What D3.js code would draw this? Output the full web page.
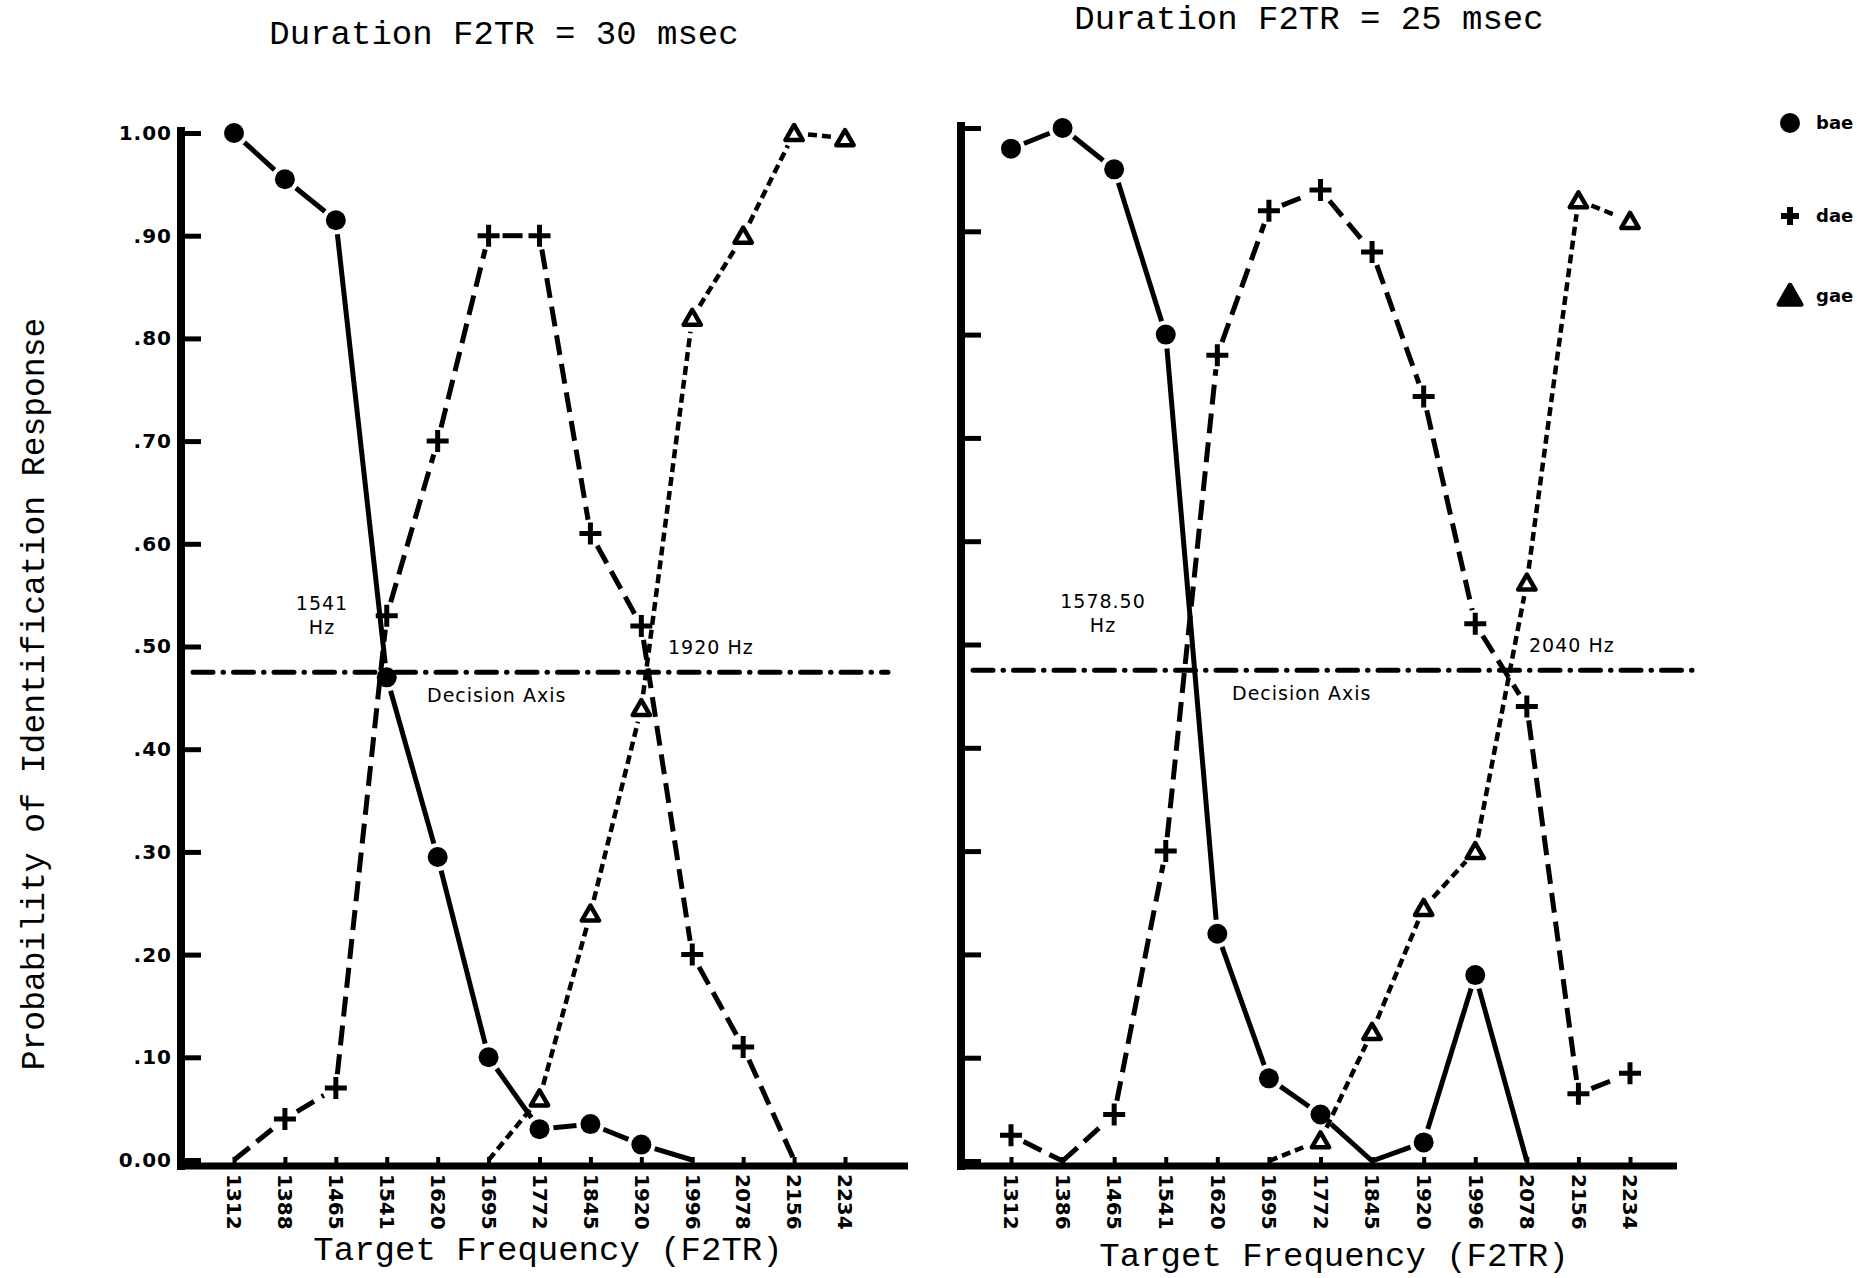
<!DOCTYPE html>
<html lang="en">
<head>
<meta charset="UTF-8">
<title>Identification response vs target frequency</title>
<script src="https://cdn.jsdelivr.net/npm/d3@7"></script>
<style>
  body { margin: 0; background: #fff; }
  .mono { font-family: "Liberation Mono", "DejaVu Sans Mono", monospace; }
  .tick text { font-family: "DejaVu Sans", sans-serif; font-weight: bold; font-size: 20px; }
  .note { font-family: "DejaVu Sans", sans-serif; font-size: 19px; letter-spacing: 1px; }
  .legend { font-family: "DejaVu Sans", sans-serif; font-weight: bold; font-size: 18px; }
</style>
</head>
<body>
<div id="chart"></div>
<script>
// categories (target frequency, Hz)
const freqsLeft  = ["1312","1388","1465","1541","1620","1695","1772","1845","1920","1996","2078","2156","2234"];
const freqsRight = ["1312","1386","1465","1541","1620","1695","1772","1845","1920","1996","2078","2156","2234"];

// probability of identification, 30 msec panel
const baeLeft = [1.00, 0.955, 0.915, 0.47, 0.295, 0.10, 0.03, 0.035, 0.015, 0, null, null, null];
const daeLeft = [0, 0.04, 0.07, 0.53, 0.70, 0.90, 0.90, 0.61, 0.52, 0.20, 0.11, 0, null];
const gaeLeft = [null, null, null, null, null, 0, 0.06, 0.24, 0.44, 0.82, 0.90, 1.00, 0.995];

// probability of identification, 25 msec panel
const baeRight = [0.98, 1.00, 0.96, 0.80, 0.22, 0.08, 0.045, 0, 0.018, 0.18, 0, null, null];
const daeRight = [0.025, 0, 0.045, 0.30, 0.78, 0.92, 0.94, 0.88, 0.74, 0.52, 0.44, 0.065, 0.085];
const gaeRight = [null, null, null, null, null, 0, 0.02, 0.125, 0.245, 0.30, 0.56, 0.93, 0.91];

const yTickValues = [0, 0.1, 0.2, 0.3, 0.4, 0.5, 0.6, 0.7, 0.8, 0.9, 1.0];
const yTickLabels = ["0.00", ".10", ".20", ".30", ".40", ".50", ".60", ".70", ".80", ".90", "1.00"];
const decisionValue = 0.475;

const svg = d3.select("#chart").append("svg")
  .attr("width", 1861).attr("height", 1278);

// line styles for each response
const styles = {
  bae: { width: 5, dash: null },
  dae: { width: 5, dash: "20,9" },
  gae: { width: 4.5, dash: "9,5" }
};

function drawMarker(g, kind, cx, cy, legend) {
  if (kind === "bae") {
    g.append("circle").attr("cx", cx).attr("cy", cy).attr("r", 10).attr("fill", "#000");
  } else if (kind === "dae") {
    const a = legend ? 9 : 11;
    g.append("path")
      .attr("d", `M${cx - a},${cy}H${cx + a}M${cx},${cy - a}V${cy + a}`)
      .attr("stroke", "#000").attr("stroke-width", legend ? 6 : 5).attr("fill", "none");
  } else {
    g.append("path")
      .attr("d", d3.symbol(d3.symbolTriangle, legend ? 220 : 130)())
      .attr("transform", `translate(${cx},${cy + 2})`)
      .attr("fill", legend ? "#000" : "#fff")
      .attr("stroke", "#000").attr("stroke-width", 4.5).attr("stroke-linejoin", "round");
  }
}

function drawSeries(g, x, y, cats, vals, kind) {
  const pts = cats.map((c, i) => ({ x: x(c), v: vals[i], y: vals[i] == null ? null : y(vals[i]) }));
  const st = styles[kind];
  const gap = 14;
  for (let i = 0; i < pts.length - 1; i++) {
    const p0 = pts[i], p1 = pts[i + 1];
    if (p0.v == null || p1.v == null) continue;
    const dx = p1.x - p0.x, dy = p1.y - p0.y;
    const len = Math.hypot(dx, dy);
    const g0 = p0.v > 0.005 ? gap : 0;
    const g1 = p1.v > 0.005 ? gap : 0;
    if (len <= g0 + g1) continue;
    const ux = dx / len, uy = dy / len;
    g.append("line")
      .attr("x1", p0.x + ux * g0).attr("y1", p0.y + uy * g0)
      .attr("x2", p1.x - ux * g1).attr("y2", p1.y - uy * g1)
      .attr("stroke", "#000").attr("stroke-width", st.width)
      .attr("stroke-dasharray", st.dash);
  }
  pts.forEach(p => {
    if (p.v != null && p.v > 0.005) drawMarker(g, kind, p.x, p.y, false);
  });
}

function drawPanel(opt) {
  const g = svg.append("g");
  const x = opt.x, y = opt.y;

  // y axis: ticks point right, labels on the left
  const yAxis = d3.axisLeft(y)
    .tickValues(yTickValues)
    .tickSizeInner(-20).tickSizeOuter(0).tickPadding(9)
    .tickFormat((d, i) => opt.showLabels ? yTickLabels[i] : "");
  const ya = g.append("g").attr("transform", `translate(${opt.axisX},0)`).call(yAxis);
  ya.select(".domain").remove();
  ya.selectAll(".tick line").attr("stroke", "#000").attr("stroke-width", 5);
  ya.selectAll(".tick text").attr("fill", "#000").style("letter-spacing", "1px");

  // x axis: small upward ticks, vertical labels
  const xAxis = d3.axisBottom(x).tickSizeInner(-9).tickSizeOuter(0).tickPadding(0);
  const xa = g.append("g").attr("transform", `translate(0,${opt.axisY})`).call(xAxis);
  xa.select(".domain").remove();
  xa.selectAll(".tick line").attr("stroke", "#000").attr("stroke-width", 4);
  xa.selectAll(".tick text")
    .attr("fill", "#000")
    .attr("transform", "rotate(90)")
    .attr("x", 8).attr("y", 0).attr("dy", "0.36em")
    .attr("text-anchor", "start");

  // heavy axis lines
  g.append("line").attr("x1", opt.axisX).attr("x2", opt.axisX)
    .attr("y1", y(1) - 6).attr("y2", opt.axisY + 4)
    .attr("stroke", "#000").attr("stroke-width", 8);
  g.append("line").attr("x1", opt.axisX - 4).attr("x2", opt.xEnd)
    .attr("y1", opt.axisY).attr("y2", opt.axisY)
    .attr("stroke", "#000").attr("stroke-width", 7);

  // decision axis
  g.append("line")
    .attr("x1", opt.axisX + 12).attr("x2", opt.decisionEnd)
    .attr("y1", y(decisionValue)).attr("y2", y(decisionValue))
    .attr("stroke", "#000").attr("stroke-width", 5)
    .attr("stroke-linecap", "round")
    .attr("stroke-dasharray", "20,10,0.5,10");

  drawSeries(g, x, y, opt.cats, opt.gae, "gae");
  drawSeries(g, x, y, opt.cats, opt.dae, "dae");
  drawSeries(g, x, y, opt.cats, opt.bae, "bae");

  // annotations
  const notes = g.append("g").attr("class", "note").attr("fill", "#000");
  notes.append("text").attr("x", opt.lowNote.x).attr("y", y(decisionValue) - 62)
    .attr("text-anchor", "middle").text(opt.lowNote.t1);
  notes.append("text").attr("x", opt.lowNote.x).attr("y", y(decisionValue) - 38)
    .attr("text-anchor", "middle").text("Hz");
  notes.append("text").attr("x", opt.highNote.x).attr("y", y(decisionValue) - 18)
    .text(opt.highNote.t);
  notes.append("text").attr("x", opt.decisionLabelX).attr("y", y(decisionValue) + 30)
    .text("Decision Axis");

  // titles
  svg.append("text").attr("class", "mono")
    .attr("x", opt.titleX).attr("y", opt.titleY)
    .attr("text-anchor", "middle").attr("font-size", 34)
    .text(opt.title);
  svg.append("text").attr("class", "mono")
    .attr("x", opt.xTitleX).attr("y", opt.xTitleY)
    .attr("text-anchor", "middle").attr("font-size", 34)
    .text("Target Frequency (F2TR)");
}

drawPanel({
  x: d3.scalePoint().domain(freqsLeft).range([234, 845]),
  y: d3.scaleLinear().domain([0, 1]).range([1160, 133]),
  cats: freqsLeft, bae: baeLeft, dae: daeLeft, gae: gaeLeft,
  axisX: 181, axisY: 1166, xEnd: 908, decisionEnd: 888,
  showLabels: true,
  lowNote: { x: 322, t1: "1541" },
  highNote: { x: 668, t: "1920 Hz" },
  decisionLabelX: 427,
  title: "Duration F2TR = 30 msec", titleX: 504, titleY: 44,
  xTitleX: 548, xTitleY: 1260
});

drawPanel({
  x: d3.scalePoint().domain(freqsRight).range([1011, 1630]),
  y: d3.scaleLinear().domain([0, 1]).range([1161, 128]),
  cats: freqsRight, bae: baeRight, dae: daeRight, gae: gaeRight,
  axisX: 961, axisY: 1166, xEnd: 1677, decisionEnd: 1695,
  showLabels: false,
  lowNote: { x: 1103, t1: "1578.50" },
  highNote: { x: 1529, t: "2040 Hz" },
  decisionLabelX: 1232,
  title: "Duration F2TR = 25 msec", titleX: 1309, titleY: 29,
  xTitleX: 1334, xTitleY: 1266
});

// y axis title
svg.append("text").attr("class", "mono")
  .attr("transform", "translate(44,694) rotate(-90)")
  .attr("text-anchor", "middle").attr("font-size", 33)
  .text("Probability of Identification Response");

// legend
const legendItems = [
  { kind: "bae", label: "bae", y: 123 },
  { kind: "dae", label: "dae", y: 216 },
  { kind: "gae", label: "gae", y: 296 }
];
const lg = svg.append("g");
legendItems.forEach(d => {
  drawMarker(lg, d.kind, 1790, d.y, true);
  lg.append("text").attr("class", "legend")
    .attr("x", 1816).attr("y", d.y).attr("dy", "0.32em")
    .text(d.label);
});
</script>
</body>
</html>
